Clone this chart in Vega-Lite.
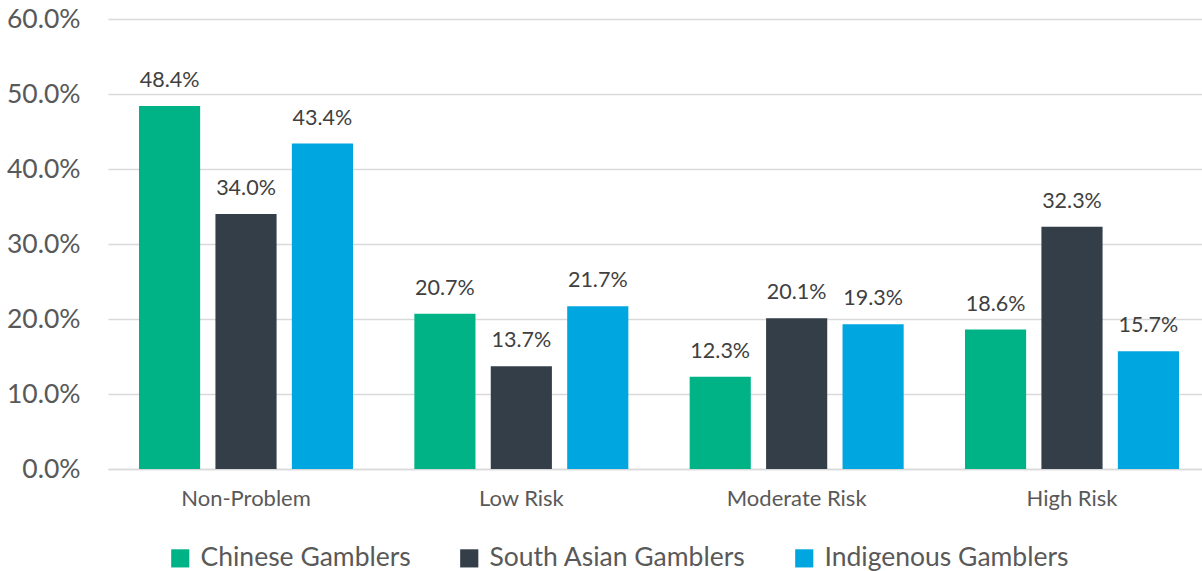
{
  "$schema": "https://vega.github.io/schema/vega-lite/v6.json",
  "width": 1094,
  "height": 450,
  "autosize": {"type": "none"},
  "padding": {"left": 108, "top": 19, "right": 0, "bottom": 102},
  "background": "white",
  "config": {
    "view": {"stroke": null},
    "font": "Lato"
  },
  "data": {
    "values": [
      {"category": "Non-Problem", "group": "Chinese Gamblers", "value": 0.484},
      {"category": "Non-Problem", "group": "South Asian Gamblers", "value": 0.340},
      {"category": "Non-Problem", "group": "Indigenous Gamblers", "value": 0.434},
      {"category": "Low Risk", "group": "Chinese Gamblers", "value": 0.207},
      {"category": "Low Risk", "group": "South Asian Gamblers", "value": 0.137},
      {"category": "Low Risk", "group": "Indigenous Gamblers", "value": 0.217},
      {"category": "Moderate Risk", "group": "Chinese Gamblers", "value": 0.123},
      {"category": "Moderate Risk", "group": "South Asian Gamblers", "value": 0.201},
      {"category": "Moderate Risk", "group": "Indigenous Gamblers", "value": 0.193},
      {"category": "High Risk", "group": "Chinese Gamblers", "value": 0.186},
      {"category": "High Risk", "group": "South Asian Gamblers", "value": 0.323},
      {"category": "High Risk", "group": "Indigenous Gamblers", "value": 0.157}
    ]
  },
  "encoding": {
    "x": {
      "field": "category",
      "type": "nominal",
      "sort": ["Non-Problem", "Low Risk", "Moderate Risk", "High Risk"],
      "scale": {"range": [0, 1102], "paddingInner": 0.2227, "paddingOuter": 0.1126},
      "axis": {
        "title": null,
        "labelAngle": 0,
        "ticks": false,
        "domain": true,
        "domainColor": "#d9d9d9",
        "domainWidth": 1.5,
        "labelFontSize": 22,
        "labelColor": "#595959",
        "labelPadding": 19
      }
    },
    "xOffset": {
      "field": "group",
      "type": "nominal",
      "sort": ["Chinese Gamblers", "South Asian Gamblers", "Indigenous Gamblers"],
      "scale": {"paddingInner": 0.2, "paddingOuter": 0}
    },
    "y": {
      "field": "value",
      "type": "quantitative",
      "scale": {"domain": [0, 0.6]},
      "axis": {
        "title": null,
        "format": ".1%",
        "values": [0, 0.1, 0.2, 0.3, 0.4, 0.5, 0.6],
        "domain": false,
        "ticks": false,
        "grid": true,
        "gridColor": "#d9d9d9",
        "gridWidth": 1.5,
        "labelFontSize": 26.5,
        "labelColor": "#595959",
        "labelPadding": 28
      }
    }
  },
  "layer": [
    {
      "mark": {"type": "bar"},
      "encoding": {
        "color": {
          "field": "group",
          "type": "nominal",
          "sort": ["Chinese Gamblers", "South Asian Gamblers", "Indigenous Gamblers"],
          "scale": {
            "domain": ["Chinese Gamblers", "South Asian Gamblers", "Indigenous Gamblers"],
            "range": ["#00b386", "#333e48", "#00a6df"]
          },
          "legend": {
            "title": null,
            "orient": "none",
            "legendX": 59,
            "legendY": 526,
            "direction": "horizontal",
            "symbolType": "square",
            "symbolSize": 330,
            "symbolStrokeWidth": 0,
            "labelFontSize": 26.5,
            "labelLimit": 0,
            "labelColor": "#595959",
            "columnPadding": 45,
            "labelOffset": 7
          }
        }
      }
    },
    {
      "mark": {"type": "text", "dy": -14, "baseline": "bottom", "fontSize": 21.5, "color": "#404040"},
      "encoding": {
        "text": {"field": "value", "type": "quantitative", "format": ".1%"}
      }
    }
  ]
}
